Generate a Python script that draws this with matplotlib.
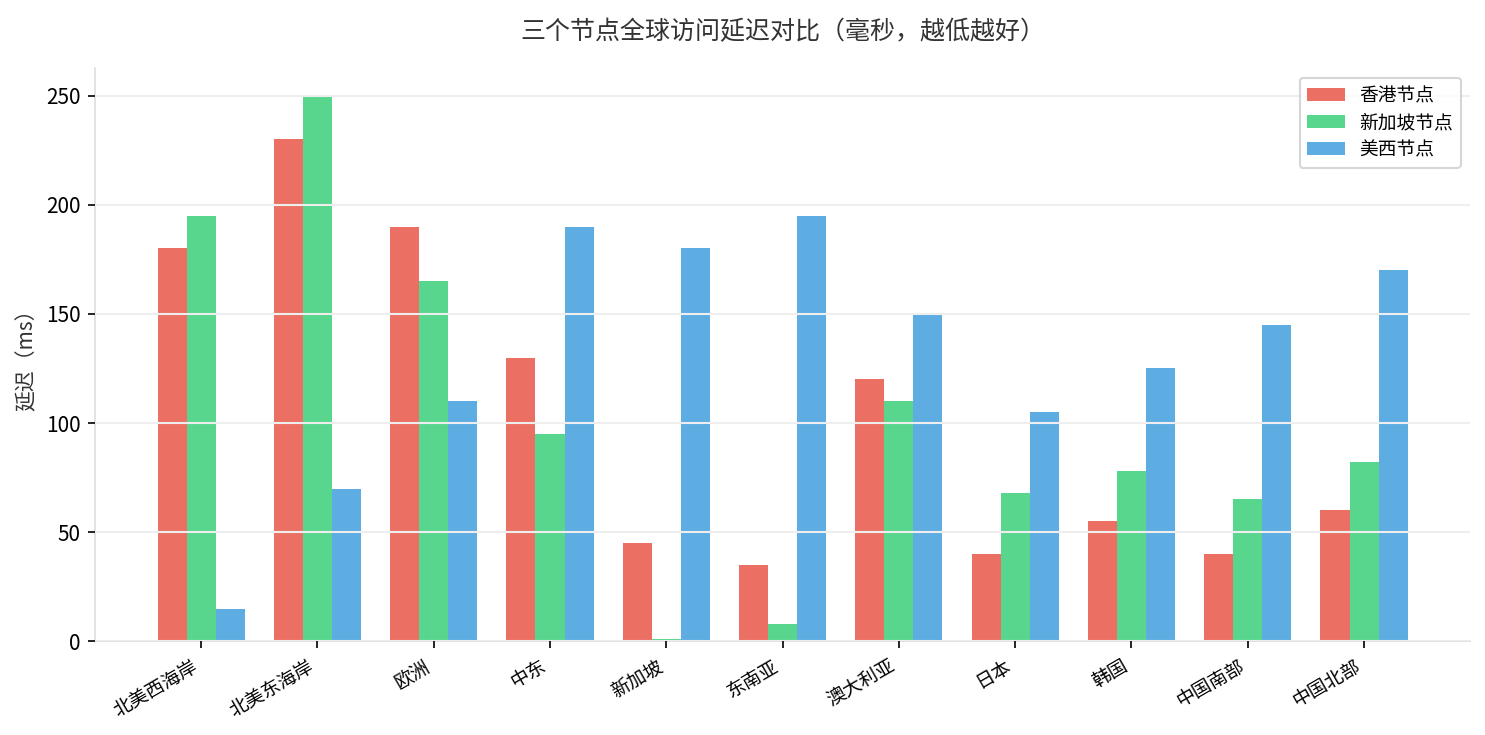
import numpy as np
import matplotlib
matplotlib.use("Agg")
import matplotlib.pyplot as plt

plt.rcParams['font.family'] = ['Noto Sans CJK SC', 'DejaVu Sans']
plt.rcParams['axes.unicode_minus'] = False

# 地区と各ノードの遅延 (ms)
regions = ['北美西海岸', '北美东海岸', '欧洲', '中东', '新加坡', '东南亚',
           '澳大利亚', '日本', '韩国', '中国南部', '中国北部']
hk_latency = [180, 230, 190, 130, 45, 35, 120, 40, 55, 40, 60]
sg_latency = [195, 250, 165, 95, 1, 8, 110, 68, 78, 65, 82]
us_latency = [15, 70, 110, 190, 180, 195, 150, 105, 125, 145, 170]

series_names = ['香港节点', '新加坡节点', '美西节点']
colors = ['#e74c3c', '#2ecc71', '#3498db']


def draw():
    fig, ax = plt.subplots(figsize=(9.9, 4.9), dpi=150)
    x = np.arange(len(regions))
    width = 0.25

    for i, (vals, name, c) in enumerate(zip([hk_latency, sg_latency, us_latency],
                                            series_names, colors)):
        ax.bar(x + (i - 1) * width, vals, width, label=name, color=c, alpha=0.8)

    ax.set_title('三个节点全球访问延迟对比（毫秒，越低越好）', fontsize=12,
                 color='#333333', pad=14)
    ax.set_ylabel('延迟（ms）', fontsize=10, color='#333333')
    ax.set_xticks(x)
    ax.set_xticklabels(regions, rotation=30, ha='right', fontsize=9)
    ax.tick_params(axis='y', labelsize=10)

    ax.grid(axis='y', color='#eeeeee', linewidth=1)
    ax.set_axisbelow(False)
    for side in ['top', 'right']:
        ax.spines[side].set_visible(False)
    for side in ['left', 'bottom']:
        ax.spines[side].set_color('#dddddd')

    ax.legend(fontsize=9, loc='upper right', labelspacing=0.32)
    fig.subplots_adjust(left=0.064, right=0.99, top=0.907, bottom=0.1275)
    fig.savefig('out.png', dpi=150)


if __name__ == "__main__":
    draw()
